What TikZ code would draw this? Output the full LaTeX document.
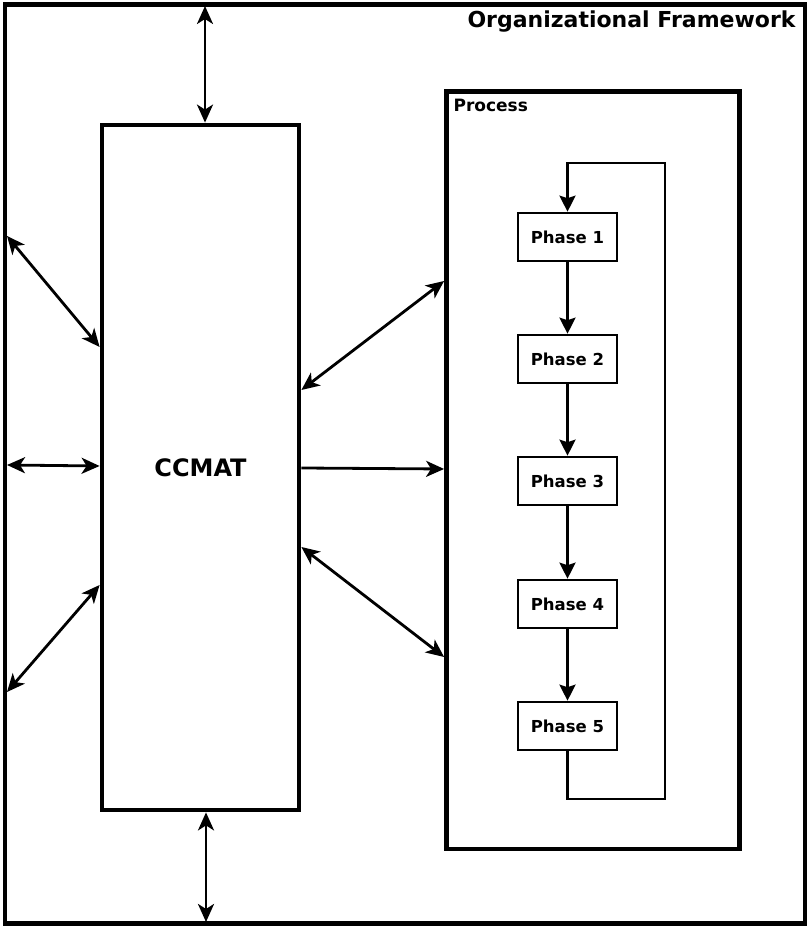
\documentclass[tikz,border=0pt]{standalone}
\usepackage{fontspec}
\setmainfont{DejaVu Sans}
\usetikzlibrary{arrows.meta,calc}
\begin{document}
\begin{tikzpicture}[x=1pt,y=1pt,
  bigbox/.style={draw, line width=4.8pt, rectangle, inner sep=0pt},
  phasebox/.style={draw, line width=2.6pt, rectangle, minimum width=99pt, minimum height=48pt, inner sep=0pt, font=\bfseries\fontsize{16.5}{19}\selectfont},
  dbl/.style={{Stealth[length=18pt,width=16pt,inset=5pt]}-{Stealth[length=18pt,width=16pt,inset=5pt]}, line width=2.8pt},
  sgl/.style={-{Stealth[length=18pt,width=16pt,inset=5pt]}, line width=2.8pt},
  flow/.style={-{Stealth[length=16pt,width=16pt,inset=2.5pt]}, line width=2.6pt}]
\useasboundingbox (0,0) rectangle (811,928);
\node[bigbox, minimum width=800pt, minimum height=919pt] (frame) at (405,464) {};
\node[anchor=east, font=\bfseries\fontsize{22}{26}\selectfont] (ftitle) at (799,906) {Organizational Framework};
\node[bigbox, minimum width=197pt, minimum height=685pt, font=\bfseries\fontsize{24}{29}\selectfont] (ccmat) at (200.5,460.5) {CCMAT};
\node[bigbox, minimum width=293pt, minimum height=757.5pt] (process) at (593,457.75) {};
\node[anchor=west, font=\bfseries\fontsize{17}{20}\selectfont] (ptitle) at (450,823) {Process};
\node[phasebox] (p1) at (567.5,691) {Phase 1};
\node[phasebox] (p2) at (567.5,569) {Phase 2};
\node[phasebox] (p3) at (567.5,447) {Phase 3};
\node[phasebox] (p4) at (567.5,324) {Phase 4};
\node[phasebox] (p5) at (567.5,202) {Phase 5};
\draw[flow] (p1.south) -- (p2.north);
\draw[flow] (p2.south) -- (p3.north);
\draw[flow] (p3.south) -- (p4.north);
\draw[flow] (p4.south) -- (p5.north);
\coordinate (lbr) at (665,129);
\coordinate (ltr) at (665,765);
\draw[flow] (p5.south) |- (lbr) -- (ltr) -| (p1.north);
% frame inner points
\coordinate (ftop) at (205,922);
\coordinate (fbot) at (206,6);
\coordinate (fl1) at (7,692);
\coordinate (fl2) at (7,463);
\coordinate (fl3) at (7,236);
\draw[dbl] (ftop) -- (ccmat.north -| ftop);
\draw[dbl] (fbot) -- (ccmat.south -| fbot);
\draw[dbl] (fl1) -- (ccmat.west |- 0,581);
\draw[dbl] (fl2) -- (ccmat.west |- 0,462);
\draw[dbl] (fl3) -- (ccmat.west |- 0,343);
\draw[dbl] (ccmat.east |- 0,538) -- (process.west |- 0,647);
\draw[sgl] (ccmat.east |- 0,460) -- (process.west |- 0,459);
\draw[dbl] (ccmat.east |- 0,381) -- (process.west |- 0,271);
\end{tikzpicture}
\end{document}
